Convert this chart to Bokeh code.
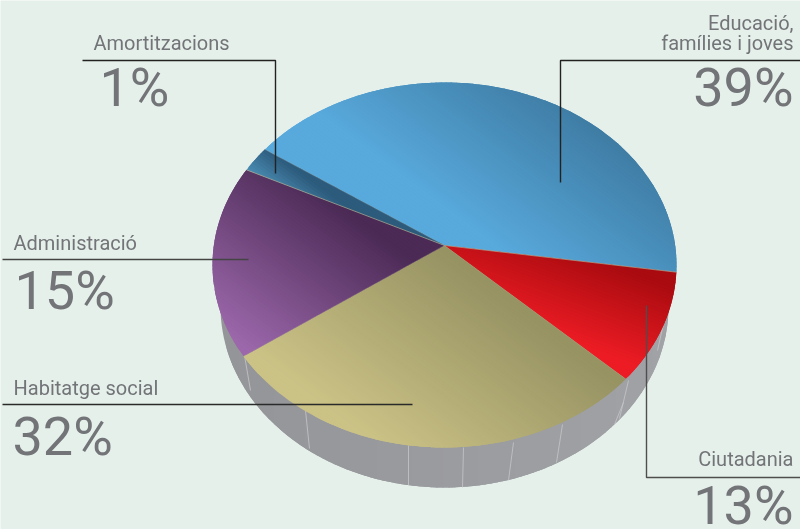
import math
from bokeh.plotting import figure
from bokeh.models import Range1d, ColumnDataSource
from bokeh.core.properties import value
from bokeh.embed import file_html
from bokeh.resources import INLINE

# ---- data
categories = ["Educació, famílies i joves", "Ciutadania", "Habitatge social", "Administració", "Amortitzacions"]
labelled_pct = [39, 13, 32, 15, 1]
# share of the circle each wedge really occupies in the drawing (differs from its printed label)
drawn_share = [42.8, 9.7, 28.2, 17.0, 2.3]

# ---- styles
light_colors = ["#58a9dc", "#ed1c24", "#cbc286", "#9c68ab", "#4f93bb"]
dark_colors = ["#3f7da5", "#a90b10", "#979363", "#4b2a55", "#2c5b7c"]
grad_dir = [(0.6, -0.8), (0.35, -0.94), (0.6, -0.8), (0.6, -0.8), (0.6, -0.8)]
grad_from = [100, -122, -130, -132, 8]
grad_to = [255, -34, 64, 40, 42]
edge_alpha = [0.35, 1.0, 0.5, 0.5, 1.0]
BG = "#e6f0eb"
TEXT = "#727477"
SMALL_PX, BIG_PX = 20, 54
SHIFT = 0.37

# ---- layout of the projected disc
CX, CY, RX, RY = 444.0, 264.5, 232.0, 182.5
BOOST = -0.107
START_DEG = 214.3
WX, WY, WRX, WRY = 444.0, 306.0, 224.0, 181.0


def rim(deg):
    t = math.radians(deg)
    u, v = math.cos(t), math.sin(t)
    d = 1 + BOOST * v
    return CX + RX * math.sqrt(1 - BOOST ** 2) * u / d, CY + RY * (v + BOOST) / d


def apex():
    return CX, CY + RY * BOOST


def clip(poly, f, lo, hi):
    def half(points, g):
        out = []
        for i, a in enumerate(points):
            b = points[(i + 1) % len(points)]
            ga, gb = g(a), g(b)
            if ga >= 0:
                out.append(a)
            if (ga >= 0) != (gb >= 0):
                k = ga / (ga - gb)
                out.append((a[0] + k * (b[0] - a[0]), a[1] + k * (b[1] - a[1])))
        return out
    res = half(poly, lambda p: f(p) - lo)
    if res:
        res = half(res, lambda p: hi - f(p))
    return res


def mix(c1, c2, k):
    k = max(0.0, min(1.0, k))
    a = [int(c1[i:i + 2], 16) for i in (1, 3, 5)]
    b = [int(c2[i:i + 2], 16) for i in (1, 3, 5)]
    return "#%02x%02x%02x" % tuple(round(a[i] + k * (b[i] - a[i])) for i in range(3))


def bands(poly, f, c0, c1, s0, s1, step=3.0):
    vals = [f(p) for p in poly]
    lo, hi = min(vals), max(vals)
    xs, ys, cols = [], [], []
    s = lo
    while s < hi:
        part = clip(poly, f, s, s + step * 2.2)
        if len(part) >= 3:
            xs.append([p[0] for p in part])
            ys.append([p[1] for p in part])
            cols.append(mix(c0, c1, (s + step / 2 - s0) / (s1 - s0)))
        s += step
    return xs, ys, cols


p = figure(width=800, height=529, x_range=Range1d(0, 800), y_range=Range1d(529, 0),
           output_backend="svg", toolbar_location=None, min_border=0,
           background_fill_color=BG, border_fill_color=BG, outline_line_color=None)
p.axis.visible = False
p.grid.visible = False
p.styles = {"position": "fixed", "left": "0px", "top": "0px"}

# side wall
wall = [(WX + WRX * math.cos(math.radians(a)), WY + WRY * math.sin(math.radians(a))) for a in range(0, 360, 2)]
wx, wy, wc = bands(wall, lambda q: q[0], "#949598", "#a1a2a6", 220, 668, step=6.0)
p.patches(wx, wy, fill_color=wc, line_color=None)

# wall seams
seam_x = [[244, 250], [305, 309], [408, 408], [463, 462], [513, 508], [562, 556], [628, 619], [623, 614], [663, 657]]
seam_y = [[355, 390], [410, 448], [445, 485], [447, 487], [442, 480], [424, 462], [380, 418], [402, 424], [323, 350]]
p.multi_line(seam_x, seam_y, line_color="#c6c7c9", line_width=0.8)

# top face
angle = START_DEG
edges = []
for i, share in enumerate(drawn_share):
    sweep = share * 3.6
    n = max(6, int(sweep / 1.5))
    poly = [apex()] + [rim(angle + sweep * j / n) for j in range(n + 1)]
    dx, dy = grad_dir[i]
    xs, ys, cols = bands(poly, lambda q, dx=dx, dy=dy: dx * q[0] + dy * q[1],
                         light_colors[i], dark_colors[i], grad_from[i], grad_to[i])
    p.patches(xs, ys, fill_color=cols, line_color=None)
    edges.append(rim(angle))
    angle += sweep

ax, ay = apex()
p.multi_line([[ax, e[0]] for e in edges], [[ay, e[1]] for e in edges], line_color="#b3a98e",
             line_width=0.7, line_alpha=edge_alpha)

# leader lines
lead_x = [[82, 275, 275], [2, 248], [2, 412], [800, 560, 560], [646, 646, 800]]
lead_y = [[60, 60, 173], [259, 259], [404, 404], [60, 60, 182], [305, 477, 477]]
lead_c = ["#222222", "#444444", "#2a2a2a", "#222222", "#4e4e4e"]
p.multi_line(lead_x, lead_y, line_color=lead_c, line_width=1.4)

# texts (baselines in the picture's pixels, corrected for how the glyph sets its alphabetic line)
FONT = value("Roboto")
sm = SHIFT * SMALL_PX
bg = SHIFT * BIG_PX
small = ColumnDataSource(dict(x=[93, 13, 13], y=[50 - sm, 250 - sm, 395 - sm],
                              t=[categories[4], categories[3], categories[2]]))
p.text("x", "y", text="t", source=small, text_font=FONT, text_font_size=f"{SMALL_PX}px", text_color=TEXT,
       text_align="left", text_baseline="alphabetic")
small_r = ColumnDataSource(dict(x=[793, 793, 793], y=[30 - sm, 50 - sm, 466 - sm],
                                t=["Educació,", "famílies i joves", categories[1]]))
p.text("x", "y", text="t", source=small_r, text_font=FONT, text_font_size=f"{SMALL_PX}px", text_color=TEXT,
       text_align="right", text_baseline="alphabetic")
big = ColumnDataSource(dict(x=[99, 14, 12], y=[107 - bg, 310 - bg, 456 - bg],
                            t=[f"{labelled_pct[4]}%", f"{labelled_pct[3]}%", f"{labelled_pct[2]}%"]))
p.text("x", "y", text="t", source=big, text_font=FONT, text_font_size=f"{BIG_PX}px", text_color=TEXT,
       text_align="left", text_baseline="alphabetic")
big_r = ColumnDataSource(dict(x=[793, 793], y=[107 - bg, 525 - bg], t=[f"{labelled_pct[0]}%", f"{labelled_pct[1]}%"]))
p.text("x", "y", text="t", source=big_r, text_font=FONT, text_font_size=f"{BIG_PX}px", text_color=TEXT,
       text_align="right", text_baseline="alphabetic")

open("out.html", "w").write(file_html(p, INLINE))
